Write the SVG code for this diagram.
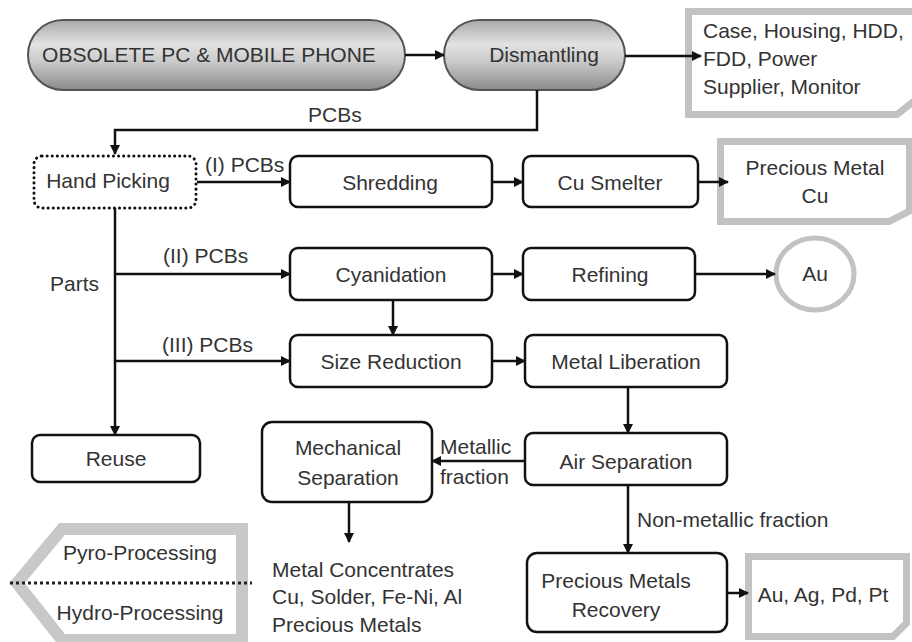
<svg xmlns="http://www.w3.org/2000/svg" width="912" height="642" viewBox="0 0 912 642">
<defs>
<linearGradient id="pill" x1="0" y1="0" x2="0" y2="1">
<stop offset="0" stop-color="#a9a9a9"/>
<stop offset="0.35" stop-color="#e2e2e2"/>
<stop offset="0.6" stop-color="#c9c9c9"/>
<stop offset="1" stop-color="#8a8a8a"/>
</linearGradient>
<marker id="ah" viewBox="0 0 10 10" refX="9" refY="5" markerWidth="4" markerHeight="4" orient="auto" markerUnits="strokeWidth">
<path d="M0,0 L10,5 L0,10 Z" fill="#111"/>
</marker>
</defs>
<style>
text{font-family:"Liberation Sans",Arial,sans-serif;font-size:21px;fill:#333}
.c{text-anchor:middle}
.box{fill:#fff;stroke:#111;stroke-width:2.5}
.pill{fill:url(#pill);stroke:#555;stroke-width:2}
.note{fill:#fff;stroke:#c2c2c2;stroke-width:7;stroke-linejoin:miter}
.arr{fill:none;stroke:#111;stroke-width:2.5;marker-end:url(#ah)}
</style>
<rect width="912" height="642" fill="#fff"/>

<g id="obsolete">
<rect class="pill" x="28" y="20" width="377" height="70" rx="35"/>
<text class="c" x="209" y="62">OBSOLETE PC &amp; MOBILE PHONE</text>
</g>
<g id="dismantling">
<rect class="pill" x="444" y="20" width="181" height="70" rx="35"/>
<text class="c" x="544" y="62">Dismantling</text>
</g>
<g id="note-case">
<path class="note" d="M688.5,11.5 H918 V98 L897,114.5 H688.5 Z"/>
<text x="703" y="38">Case, Housing, HDD,</text>
<text x="703" y="66">FDD, Power</text>
<text x="703" y="94">Supplier, Monitor</text>
</g>
<text x="308" y="122">PCBs</text>

<g id="hand-picking">
<rect x="34" y="156" width="162" height="52" rx="8" fill="#fff" stroke="#111" stroke-width="3" stroke-dasharray="0.1 5" stroke-linecap="round"/>
<text class="c" x="108" y="188">Hand Picking</text>
</g>
<text x="205" y="172">(I) PCBs</text>
<g id="shredding">
<rect class="box" x="290" y="156" width="202" height="51" rx="8"/>
<text class="c" x="390" y="190">Shredding</text>
</g>
<g id="cu-smelter">
<rect class="box" x="523" y="156" width="175" height="51" rx="8"/>
<text class="c" x="610" y="190">Cu Smelter</text>
</g>
<g id="note-cu">
<path class="note" d="M720.5,141.5 H909.5 V211 L889,221.5 H720.5 Z"/>
<text class="c" x="815" y="175">Precious Metal</text>
<text class="c" x="815" y="203">Cu</text>
</g>

<text x="50" y="291">Parts</text>
<text x="163" y="263">(II)  PCBs</text>
<g id="cyanidation">
<rect class="box" x="290" y="248" width="202" height="52" rx="8"/>
<text class="c" x="391" y="282">Cyanidation</text>
</g>
<g id="refining">
<rect class="box" x="523" y="248" width="172" height="52" rx="8"/>
<text class="c" x="610" y="282">Refining</text>
</g>
<g id="au">
<ellipse cx="815" cy="274" rx="39" ry="36" fill="#fff" stroke="#c2c2c2" stroke-width="5"/>
<text class="c" x="815" y="281">Au</text>
</g>

<text x="162" y="352">(III)  PCBs</text>
<g id="size-reduction">
<rect class="box" x="290" y="335" width="202" height="52" rx="8"/>
<text class="c" x="391" y="369">Size Reduction</text>
</g>
<g id="metal-liberation">
<rect class="box" x="525" y="335" width="202" height="52" rx="8"/>
<text class="c" x="626" y="369">Metal Liberation</text>
</g>

<g id="reuse">
<rect class="box" x="32" y="435" width="168" height="47" rx="8"/>
<text class="c" x="116" y="466">Reuse</text>
</g>
<g id="mechanical-separation">
<rect class="box" x="262" y="422" width="170" height="80" rx="10"/>
<text class="c" x="348" y="455">Mechanical</text>
<text class="c" x="348" y="485">Separation</text>
</g>
<text x="440" y="454">Metallic</text>
<text x="440" y="484">fraction</text>
<g id="air-separation">
<rect class="box" x="525" y="433" width="202" height="52" rx="8"/>
<text class="c" x="626" y="469">Air Separation</text>
</g>
<text x="637" y="527">Non-metallic fraction</text>

<g id="metal-concentrates">
<text x="272" y="577">Metal Concentrates</text>
<text x="272" y="604">Cu, Solder, Fe-Ni, Al</text>
<text x="272" y="632">Precious Metals</text>
</g>

<g id="precious-metals-recovery">
<rect class="box" x="527" y="553" width="200" height="79" rx="10"/>
<text class="c" x="616" y="588">Precious Metals</text>
<text class="c" x="616" y="617">Recovery</text>
</g>
<g id="note-au">
<path class="note" d="M748.5,556.5 H906.5 V623 L893,636.5 H748.5 Z"/>
<text class="c" x="823" y="602">Au, Ag, Pd, Pt</text>
</g>

<g id="legend">
<polygon points="62,529 242,529 242,640 62,640 17,583" fill="#fff" stroke="#c8c8c8" stroke-width="12" stroke-linejoin="miter"/>
<line x1="10" y1="583" x2="252" y2="583" stroke="#222" stroke-width="3" stroke-dasharray="3 3"/>
<text class="c" x="140" y="560">Pyro-Processing</text>
<text class="c" x="140" y="620">Hydro-Processing</text>
</g>

<g id="connectors">
<path class="arr" d="M405,55 H444"/>
<path class="arr" d="M625,56 H701"/>
<path class="arr" d="M537,90 V130 H115 V154"/>
<path class="arr" d="M197,182 H290"/>
<path class="arr" d="M492,182 H523"/>
<path class="arr" d="M698,182 H728"/>
<path class="arr" d="M115,208 V435"/>
<path class="arr" d="M115,274 H290"/>
<path class="arr" d="M115,361 H290"/>
<path class="arr" d="M492,274 H523"/>
<path class="arr" d="M695,274 H775"/>
<path class="arr" d="M393,300 V335"/>
<path class="arr" d="M492,361 H525"/>
<path class="arr" d="M628,387 V433"/>
<path class="arr" d="M525,461 H432"/>
<path class="arr" d="M349,502 V542"/>
<path class="arr" d="M628,485 V553"/>
<path class="arr" d="M727,593 H748"/>
</g>
</svg>
